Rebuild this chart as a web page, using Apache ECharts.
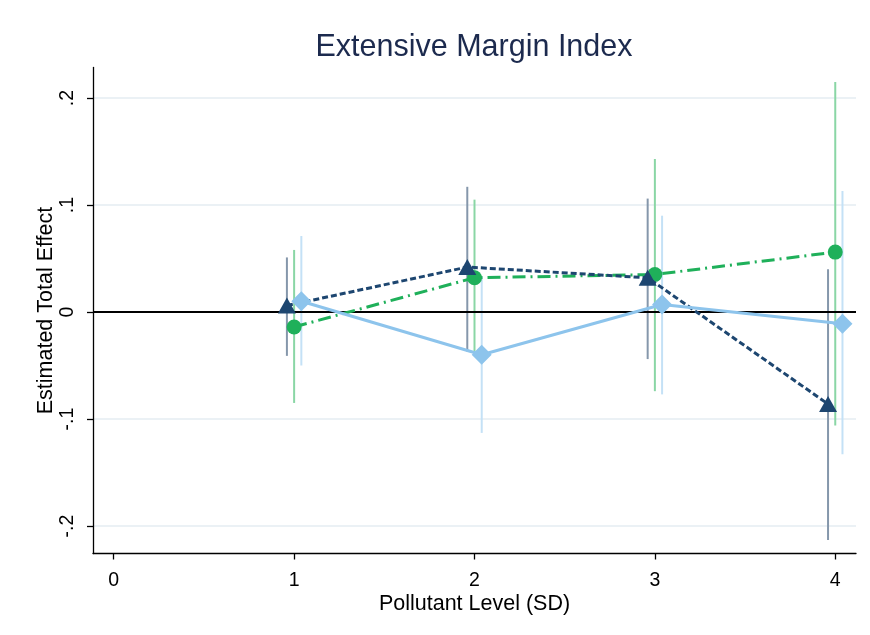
<!DOCTYPE html>
<html><head><meta charset="utf-8">
<script src="https://cdn.jsdelivr.net/npm/echarts@6/dist/echarts.min.js"></script>
<style>html,body{margin:0;padding:0;background:#fff}#c{width:870px;height:635px}</style>
</head><body><div id="c"></div>
<script>
// ---- data ----
const levels = [1, 2, 3, 4];
const xTicks = [0, 1, 2, 3, 4];
const yTicks = [-0.2, -0.1, 0, 0.1, 0.2];
const navyEst = [0.006, 0.042, 0.032, -0.086];
const navyLo  = [-0.041, -0.037, -0.044, -0.213];
const navyHi  = [0.051, 0.117, 0.106, 0.040];
const greenEst = [-0.014, 0.032, 0.035, 0.056];
const greenLo  = [-0.085, -0.037, -0.074, -0.106];
const greenHi  = [0.058, 0.105, 0.143, 0.215];
const blueEst = [0.010, -0.040, 0.007, -0.011];
const blueLo  = [-0.050, -0.113, -0.077, -0.133];
const blueHi  = [0.071, 0.033, 0.090, 0.113];

// ---- styling ----
const NAVY = '#1d4670', GREEN = '#1fb05a', BLUE = '#8dc4ec';
const NAVY_CI = '#8597ab', GREEN_CI = '#8ad6a5', BLUE_CI = '#c4e1f6';
const OFF = {navy: -0.04, green: 0, blue: 0.04};
const FONT = '"Liberation Sans", Arial, sans-serif';

function fmt(v) {
  if (Math.abs(v) < 1e-9) return '0';
  const s = String(Math.round(v * 10) / 10);
  return s.replace('0.', '.');
}

function ciSeries(lo, hi, off, color) {
  return {
    type: 'custom', silent: true, z: 1,
    data: levels.map((x, i) => [x + off, lo[i], hi[i]]),
    encode: {x: 0, y: [1, 2]},
    renderItem: (params, api) => {
      const a = api.coord([api.value(0), api.value(1)]);
      const b = api.coord([api.value(0), api.value(2)]);
      return {type: 'line', shape: {x1: a[0], y1: a[1], x2: b[0], y2: b[1]},
              style: {stroke: color, lineWidth: 2}};
    }
  };
}

function estSeries(est, off, color, symbol, size, dash, z) {
  return {
    type: 'line', z: z, silent: true,
    data: levels.map((x, i) => [x + off, est[i]]),
    symbol: symbol, symbolSize: size, showSymbol: true,
    lineStyle: {color: color, width: 3, type: dash},
    itemStyle: {color: color, opacity: 1},
    animation: false
  };
}

const chart = echarts.init(document.getElementById('c'), null, {renderer: 'canvas'});
chart.setOption({
  animation: false,
  backgroundColor: '#fff',
  title: {
    text: 'Extensive Margin Index', left: 469, top: 27, textAlign: 'center',
    textStyle: {fontFamily: FONT, fontSize: 30.5, fontWeight: 'normal', color: '#1c2a4e'}
  },
  grid: {left: 93, right: 14, top: 67.5, bottom: 81.5, containLabel: false},
  xAxis: {
    type: 'value', min: -0.115, max: 4.115,
    name: 'Pollutant Level (SD)', nameLocation: 'middle', nameGap: 40, nameMoveOverlap: false,
    nameTextStyle: {fontFamily: FONT, fontSize: 21.5, color: '#000'},
    axisLine: {show: true, onZero: false, lineStyle: {color: '#000', width: 1.3}},
    axisTick: {show: true, length: 6, customValues: xTicks, lineStyle: {color: '#000', width: 1.3}},
    axisLabel: {customValues: xTicks, margin: 17, fontFamily: FONT, fontSize: 19.5, color: '#000',
                formatter: v => String(v)},
    splitLine: {show: false}
  },
  yAxis: {
    type: 'value', min: -0.2257, max: 0.2285,
    name: 'Estimated Total Effect', nameLocation: 'middle', nameGap: 36, nameRotate: 90,
    nameMoveOverlap: false,
    nameTextStyle: {fontFamily: FONT, fontSize: 21.5, color: '#000'},
    axisLine: {show: true, onZero: false, lineStyle: {color: '#000', width: 1.3}},
    axisTick: {show: true, length: 6, customValues: yTicks, lineStyle: {color: '#000', width: 1.3}},
    axisLabel: {customValues: yTicks, rotate: 90, margin: 15, fontFamily: FONT, fontSize: 19.5, color: '#000',
                formatter: fmt},
    splitLine: {show: true, lineStyle: {color: '#e4edf2', width: 1.5}}
  },
  series: [
    ciSeries(greenLo, greenHi, OFF.green, GREEN_CI),
    ciSeries(navyLo, navyHi, OFF.navy, NAVY_CI),
    ciSeries(blueLo, blueHi, OFF.blue, BLUE_CI),
    Object.assign(estSeries(greenEst, OFF.green, GREEN, 'circle', 15, [13, 5, 2, 5], 3), {
      markLine: {silent: true, symbol: 'none', label: {show: false},
                 lineStyle: {color: '#000', width: 1.8, type: 'solid'},
                 data: [{yAxis: 0}], z: 2}
    }),
    estSeries(navyEst, OFF.navy, NAVY, 'triangle', [18, 16], [6, 3], 4),
    estSeries(blueEst, OFF.blue, BLUE, 'diamond', [20, 20], 'solid', 5)
  ]
});
</script>
</body></html>
